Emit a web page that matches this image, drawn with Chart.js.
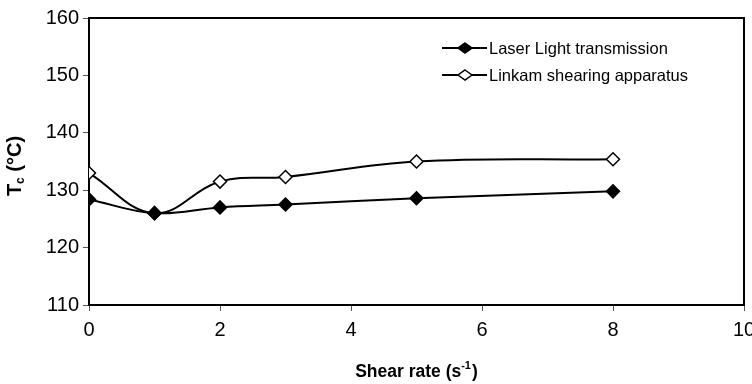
<!DOCTYPE html>
<html>
<head>
<meta charset="utf-8">
<script src="https://cdn.jsdelivr.net/npm/chart.js@4/dist/chart.umd.min.js"></script>
<style>
html,body{margin:0;padding:0;background:#fff;}
#wrap{width:752px;height:384px;}
</style>
</head>
<body>
<div id="wrap"><canvas id="c" width="752" height="384"></canvas></div>
<script>
const shearRate = [0, 1, 2, 3, 5, 8];
const laserValues = [128.4, 126.0, 127.0, 127.5, 128.6, 129.8];
const linkamValues = [133.0, 126.0, 131.5, 132.3, 135.0, 135.4];
const seriesNames = ['Laser Light transmission', 'Linkam shearing apparatus'];
const xTitle = ['Shear rate (s', '-1', ')'];
const yTitle = ['T', 'c', ' (°C)'];

const FONT = '"Liberation Sans", Arial, sans-serif';

const extras = {
  id: 'extras',
  afterDraw(chart) {
    const ctx = chart.ctx;
    const a = chart.chartArea;
    ctx.save();
    ctx.strokeStyle = '#000';
    ctx.lineWidth = 2;
    ctx.beginPath();
    ctx.moveTo(a.left, a.top);
    ctx.lineTo(a.right, a.top);
    ctx.lineTo(a.right, a.bottom);
    ctx.stroke();

    // x title
    ctx.fillStyle = '#000';
    ctx.textBaseline = 'alphabetic';
    const big = 'bold 17.5px ' + FONT, small = 'bold 11px ' + FONT;
    ctx.font = big;
    const w1 = ctx.measureText(xTitle[0]).width;
    const w3 = ctx.measureText(xTitle[2]).width;
    ctx.font = small;
    const w2 = ctx.measureText(xTitle[1]).width;
    const tot = w1 + w2 + w3 + 1;
    let x = (a.left + a.right) / 2 - tot / 2;
    const by = 377;
    ctx.textAlign = 'left';
    ctx.font = big;
    ctx.fillText(xTitle[0], x, by);
    x += w1;
    ctx.font = small;
    ctx.fillText(xTitle[1], x, by - 8);
    x += w2 + 1;
    ctx.font = big;
    ctx.fillText(xTitle[2], x, by);

    // y title rotated
    ctx.save();
    ctx.translate(21, 166);
    ctx.rotate(-Math.PI / 2);
    const ybig = 'bold 20px ' + FONT, ysmall = 'bold 12px ' + FONT;
    ctx.font = ybig;
    const t1 = ctx.measureText(yTitle[0]).width;
    const t3 = ctx.measureText(yTitle[2]).width;
    ctx.font = ysmall;
    const t2 = ctx.measureText(yTitle[1]).width;
    let yx = -(t1 + t2 + t3) / 2;
    ctx.font = ybig;
    ctx.fillText(yTitle[0], yx, 0);
    yx += t1;
    ctx.font = ysmall;
    ctx.fillText(yTitle[1], yx, 3);
    yx += t2;
    ctx.font = ybig;
    ctx.fillText(yTitle[2], yx, 0);
    ctx.restore();

    // legend
    const rows = [{y: 48, fill: '#000'}, {y: 75, fill: '#fff'}];
    ctx.font = '16.5px ' + FONT;
    ctx.textBaseline = 'middle';
    rows.forEach((r, i) => {
      ctx.strokeStyle = '#000';
      ctx.lineWidth = 2;
      ctx.beginPath();
      ctx.moveTo(442, r.y);
      ctx.lineTo(487, r.y);
      ctx.stroke();
      const cx = 465, sx = 7, sy = 5;
      ctx.beginPath();
      ctx.moveTo(cx, r.y - sy);
      ctx.lineTo(cx + sx, r.y);
      ctx.lineTo(cx, r.y + sy);
      ctx.lineTo(cx - sx, r.y);
      ctx.closePath();
      ctx.fillStyle = r.fill;
      ctx.fill();
      ctx.lineWidth = 1.5;
      ctx.stroke();
      ctx.fillStyle = '#000';
      ctx.fillText(seriesNames[i], 489, r.y + 1);
    });
    ctx.restore();
  }
};

function ds(label, values, fill) {
  return {
    label,
    data: shearRate.map((x, i) => ({x, y: values[i]})),
    borderColor: '#000',
    borderWidth: 2,
    backgroundColor: fill,
    pointStyle: 'rectRot',
    pointRadius: 6.5,
    pointBorderColor: '#000',
    pointBackgroundColor: fill,
    pointBorderWidth: 1.5,
    tension: 0.4,
    cubicInterpolationMode: 'default'
  };
}

new Chart(document.getElementById('c'), {
  type: 'line',
  data: {
    datasets: [
      ds(seriesNames[0], laserValues, '#000'),
      ds(seriesNames[1], linkamValues, '#fff')
    ]
  },
  options: {
    responsive: false,
    animation: false,
    events: [],
    layout: {padding: {top: 18, right: 8, left: 0, bottom: 0}},
    plugins: {legend: {display: false}, tooltip: {enabled: false}},
    scales: {
      x: {
        type: 'linear',
        min: 0, max: 10,
        ticks: {stepSize: 2, color: '#000', font: {family: FONT, size: 20}, padding: 7, maxRotation: 0},
        grid: {drawOnChartArea: false, drawTicks: true, tickLength: 6, color: '#555', lineWidth: 1},
        border: {color: '#000', width: 2},
        afterFit(s) { s.height = 79; s.paddingLeft = 0; s.paddingRight = 0; }
      },
      y: {
        min: 110, max: 160,
        ticks: {stepSize: 10, color: '#000', font: {family: FONT, size: 20}, padding: 4},
        grid: {drawOnChartArea: false, drawTicks: true, tickLength: 6, color: '#555', lineWidth: 1},
        border: {color: '#000', width: 2},
        afterFit(s) { s.width = 89; s.paddingTop = 0; s.paddingBottom = 0; }
      }
    }
  },
  plugins: [extras]
});
</script>
</body>
</html>
